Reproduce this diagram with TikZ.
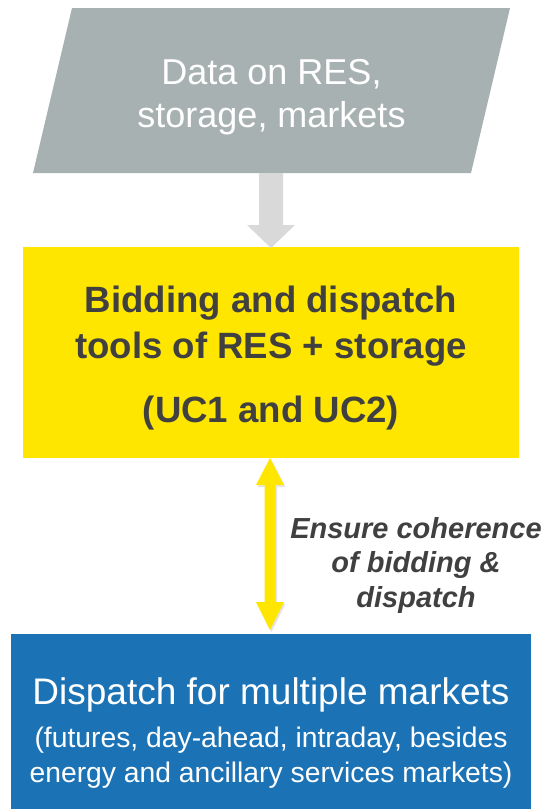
\documentclass[tikz,border=0pt]{standalone}
\usepackage{fontspec}
\setmainfont{Liberation Sans}
\definecolor{pargray}{RGB}{168,177,177}
\definecolor{arrgray}{RGB}{217,217,217}
\definecolor{ybox}{RGB}{255,230,0}
\definecolor{bbox}{RGB}{27,114,181}
\definecolor{txtdark}{RGB}{64,64,64}
\begin{document}
\begin{tikzpicture}[x=1pt,y=-1pt,
  boxtext/.style={inner sep=0pt,align=center},
  ]
\useasboundingbox (0,0) rectangle (543,809);
% data parallelogram
\fill[pargray] (72,8) -- (510,8) -- (471,173) -- (33,173) -- cycle;
\node[boxtext,text=white,font=\fontsize{36}{43}\selectfont] (data) at (271.5,97) {Data on RES,\\storage, markets};
% yellow box
\fill[ybox] (23,247) rectangle (519,458);
\node[boxtext,text=txtdark,font=\fontsize{36.6}{46}\bfseries\selectfont] (tools) at (271,358) {Bidding and dispatch\\tools of RES + storage\\[17.5pt](UC1 and UC2)};
% blue box
\fill[bbox] (11,634) rectangle (531,809);
\node[boxtext,text=white,font=\fontsize{28.3}{35}\selectfont] (disp) at (271,733.5) {{\fontsize{37}{44}\selectfont Dispatch for multiple markets}\\[8pt](futures, day-ahead, intraday, besides\\energy and ancillary services markets)};
% gray arrow
\fill[arrgray] (259,173) -- (283,173) -- (283,225) -- (295,225) -- (271,248) -- (247,225) -- (259,225) -- cycle;
% yellow double arrow with soft shadow
\fill[black!30,opacity=0.35] (271.5,460) -- (285.5,487) -- (277,487) -- (277,604) -- (285.5,604) -- (271.5,632) -- (257.5,604) -- (266,604) -- (266,487) -- (257.5,487) -- cycle;
\fill[ybox] (270,458) -- (284,485) -- (275.5,485) -- (275.5,602) -- (284,602) -- (270,630) -- (256,602) -- (264.5,602) -- (264.5,485) -- (256,485) -- cycle;
\node[boxtext,text=txtdark,font=\fontsize{29}{34.5}\bfseries\itshape\selectfont] (coh) at (416,565) {Ensure coherence\\of bidding \&\\dispatch};
\end{tikzpicture}
\end{document}
